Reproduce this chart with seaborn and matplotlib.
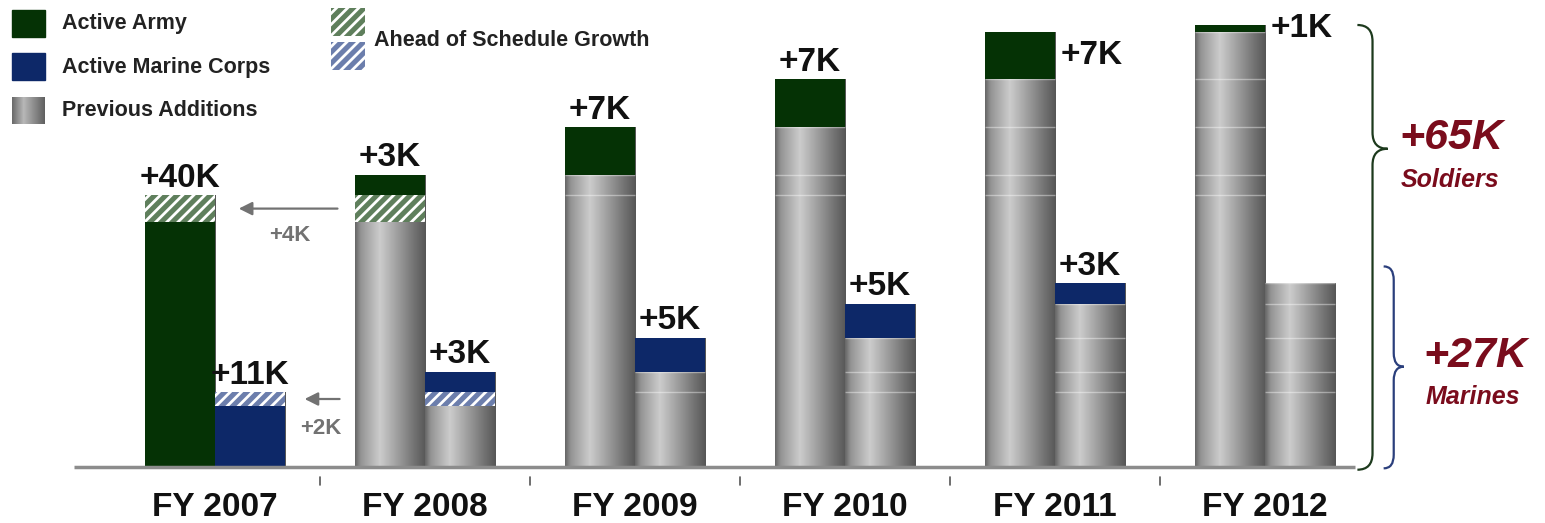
import numpy as np
import pandas as pd
import matplotlib
matplotlib.use("Agg")
import matplotlib.pyplot as plt
import seaborn as sns
from matplotlib.path import Path
from matplotlib.patches import PathPatch, Rectangle

# Data (thousands of troops added per fiscal year)
years = ["FY 2007", "FY 2008", "FY 2009", "FY 2010", "FY 2011", "FY 2012"]
army_added = [40, 3, 7, 7, 7, 1]
marine_added = [11, 3, 5, 5, 3, 0]
army_ahead = 4      # part of FY2007 growth that was ahead of schedule
marine_ahead = 2
army_goal = 65
marine_goal = 27

# Colours
GREEN = "#053205"
BLUE = "#0d2868"
GREEN_HATCH = "#5f7f5c"
BLUE_HATCH = "#6c7eac"
RED = "#7a0c1c"
ARROW = "#727272"

W, H = 1545, 523

sns.set_theme(style="white")
plt.rcParams["font.family"] = ["Liberation Sans", "DejaVu Sans"]
plt.rcParams["hatch.linewidth"] = 2.0
plt.rcParams["hatch.color"] = "white"

army_prev = np.concatenate([[0], np.cumsum(army_added)[:-1]])
marine_prev = np.concatenate([[0], np.cumsum(marine_added)[:-1]])
army_total = army_prev + np.array(army_added)
marine_total = marine_prev + np.array(marine_added)

df = pd.DataFrame({
    "year": years * 2,
    "branch": ["Army"] * len(years) + ["Marines"] * len(years),
    "total": list(army_total) + list(marine_total),
})

fig = plt.figure(figsize=(W / 100, H / 100), dpi=100)
ax = fig.add_axes([0, 0, 1, 1])

# base bars (gray "previous additions"), drawn by seaborn
sns.barplot(data=df, x="year", y="total", hue="branch", palette=["#999999", "#999999"],
            width=0.667, dodge=True, errorbar=None, legend=False, saturation=1,
            linewidth=0, ax=ax)

bars = list(ax.patches)
bw = bars[0].get_width()

# cylinder-like shading on the gray bars
t = np.linspace(0, 1, 200)
grad = np.interp(t, [0, 0.08, 0.35, 0.6, 0.85, 1], [0.40, 0.58, 0.80, 0.62, 0.44, 0.34])
for p in bars:
    x0, h = p.get_x(), p.get_height()
    im = ax.imshow(grad[None, :], extent=[x0, x0 + bw, 0, h], aspect="auto", cmap="gray",
                   vmin=0, vmax=1, interpolation="bilinear", zorder=2)
    im.set_clip_path(p)

idx = np.arange(len(years))
ax_x = idx - bw / 2
mx_x = idx + bw / 2

# thin light lines at the boundaries of earlier additions
for i in idx:
    for b in army_total[:i]:
        ax.hlines(b, ax_x[i] - bw / 2, ax_x[i] + bw / 2, colors="white", lw=1, alpha=0.4, zorder=2.5)
    for b in marine_total[:i]:
        ax.hlines(b, mx_x[i] - bw / 2, mx_x[i] + bw / 2, colors="white", lw=1, alpha=0.4, zorder=2.5)

# new additions
ax.bar(ax_x, army_added, bottom=army_prev, width=bw, color=GREEN, lw=0, zorder=3)
ax.bar(mx_x, marine_added, bottom=marine_prev, width=bw, color=BLUE, lw=0, zorder=3)

# ahead of schedule growth (FY2007 and again where it was planned, FY2008)
a_bot = army_added[0] - army_ahead
m_bot = marine_added[0] - marine_ahead
ax.bar(ax_x[:2], [army_ahead] * 2, bottom=a_bot, width=bw, color=GREEN_HATCH,
       edgecolor="white", hatch="///", lw=0, zorder=3.5)
ax.bar(mx_x[:2], [marine_ahead] * 2, bottom=m_bot, width=bw, color=BLUE_HATCH,
       edgecolor="white", hatch="///", lw=0, zorder=3.5)

# value labels
for i in idx:
    top = army_total[i]
    if top > 60:
        ax.text(ax_x[i] + bw / 2 + 0.025, army_prev[i] + army_added[i] / 2, f"+{army_added[i]}K",
                ha="left", va="center", fontsize=24, fontweight="bold", color="#111111", zorder=5)
    else:
        ax.text(ax_x[i], top + 0.2, f"+{army_added[i]}K", ha="center", va="bottom",
                fontsize=24, fontweight="bold", color="#111111", zorder=5)
    if marine_added[i] > 0:
        ax.text(mx_x[i], marine_total[i] + 0.2, f"+{marine_added[i]}K", ha="center", va="bottom",
                fontsize=24, fontweight="bold", color="#111111", zorder=5)

# arrows showing the ahead-of-schedule growth moved to FY2007
ay = a_bot + army_ahead / 2
ax.annotate("", xy=(ax_x[0] + bw / 2 + 0.1, ay), xytext=(ax_x[1] - bw / 2 - 0.07, ay),
            arrowprops=dict(arrowstyle="-|>", color=ARROW, lw=1.6, mutation_scale=20), zorder=5)
ax.text(0.355, ay - 3.9, f"+{army_ahead}K", ha="center", va="center", fontsize=16,
        fontweight="bold", color=ARROW)
my = m_bot + marine_ahead / 2
ax.annotate("", xy=(mx_x[0] + bw / 2 + 0.08, my), xytext=(ax_x[1] - bw / 2 - 0.06, my),
            arrowprops=dict(arrowstyle="-|>", color=ARROW, lw=1.6, mutation_scale=20), zorder=5)
ax.text(0.505, my - 4.4, f"+{marine_ahead}K", ha="center", va="center", fontsize=16,
        fontweight="bold", color=ARROW)

# baseline, ticks between groups and category labels
ax.plot([-0.67, 5.43], [0, 0], color="#8c8c8c", lw=2.5, zorder=4, solid_capstyle="butt")
for x in idx[:-1] + 0.5:
    ax.plot([x, x], [-1.5, -2.7], color="#555555", lw=1.2)
for i in idx:
    ax.text(i, -5.9, years[i], ha="center", va="center", fontsize=24, fontweight="bold",
            color="#111111")


def brace(x, y0, y1, ym, w, r, color):
    verts = [(x, y1), (x + w, y1), (x + w, y1 - r),
             (x + w, ym + r), (x + w, ym), (x + 2 * w, ym),
             (x + w, ym), (x + w, ym - r),
             (x + w, y0 + r), (x + w, y0), (x, y0)]
    codes = [Path.MOVETO, Path.CURVE3, Path.CURVE3, Path.LINETO, Path.CURVE3, Path.CURVE3,
             Path.CURVE3, Path.CURVE3, Path.LINETO, Path.CURVE3, Path.CURVE3]
    ax.add_patch(PathPatch(Path(verts, codes), fill=False, edgecolor=color, lw=1.6, zorder=4))


# braces with totals
s_tip = army_goal * 0.72
brace(5.44, -0.4, army_goal, s_tip, 0.072, 2.4, "#1d3a1d")
ax.text(5.885, s_tip + 1.6, f"+{army_goal}K", ha="center", va="center", fontsize=31,
        fontweight="bold", fontstyle="italic", color=RED)
ax.text(5.88, s_tip - 4.6, "Soldiers", ha="center", va="center", fontsize=18,
        fontweight="bold", fontstyle="italic", color=RED)

m_top = marine_goal + 2.5
m_tip = m_top / 2
brace(5.565, -0.2, m_top, m_tip, 0.048, 2.0, "#2b3f7c")
ax.text(6.0, m_tip + 1.6, f"+{marine_goal}K", ha="center", va="center", fontsize=31,
        fontweight="bold", fontstyle="italic", color=RED)
ax.text(5.99, m_tip - 4.4, "Marines", ha="center", va="center", fontsize=18,
        fontweight="bold", fontstyle="italic", color=RED)


# legend drawn by hand (figure pixel coordinates)
def fx(px):
    return px / W


def fy(py):
    return 1 - py / H


leg = [("Active Army", GREEN, 10), ("Active Marine Corps", BLUE, 53), ("Previous Additions", None, 97)]
for label, col, top in leg:
    if col is None:
        lg = np.interp(np.linspace(0, 1, 33), [0, 0.35, 1], [0.42, 0.72, 0.38])
        swatch = np.repeat(np.stack([lg] * 3, axis=-1)[None, :, :], 27, axis=0)
        fig.figimage(swatch, xo=12, yo=H - top - 27, zorder=6)
    else:
        fig.patches.append(Rectangle((fx(12), fy(top + 27)), fx(33), 27 / H, color=col,
                                     transform=fig.transFigure, figure=fig))
    fig.text(fx(62), fy(top + 14), label, ha="left", va="center", fontsize=15.5,
             fontweight="bold", color="#222222")

fig.patches.append(Rectangle((fx(331), fy(36)), fx(34), 28 / H, facecolor=GREEN_HATCH,
                             edgecolor="white", hatch="///", lw=0,
                             transform=fig.transFigure, figure=fig))
fig.patches.append(Rectangle((fx(331), fy(70)), fx(34), 28 / H, facecolor=BLUE_HATCH,
                             edgecolor="white", hatch="///", lw=0,
                             transform=fig.transFigure, figure=fig))
fig.text(fx(374), fy(40), "Ahead of Schedule Growth", ha="left", va="center", fontsize=15.5,
         fontweight="bold", color="#222222")

ax.set_xlim((0 - 215) / 210, (W - 215) / 210)
ax.set_ylim((467 - H) / 6.8, 467 / 6.8)
ax.axis("off")

fig.savefig("out.png", dpi=100)
